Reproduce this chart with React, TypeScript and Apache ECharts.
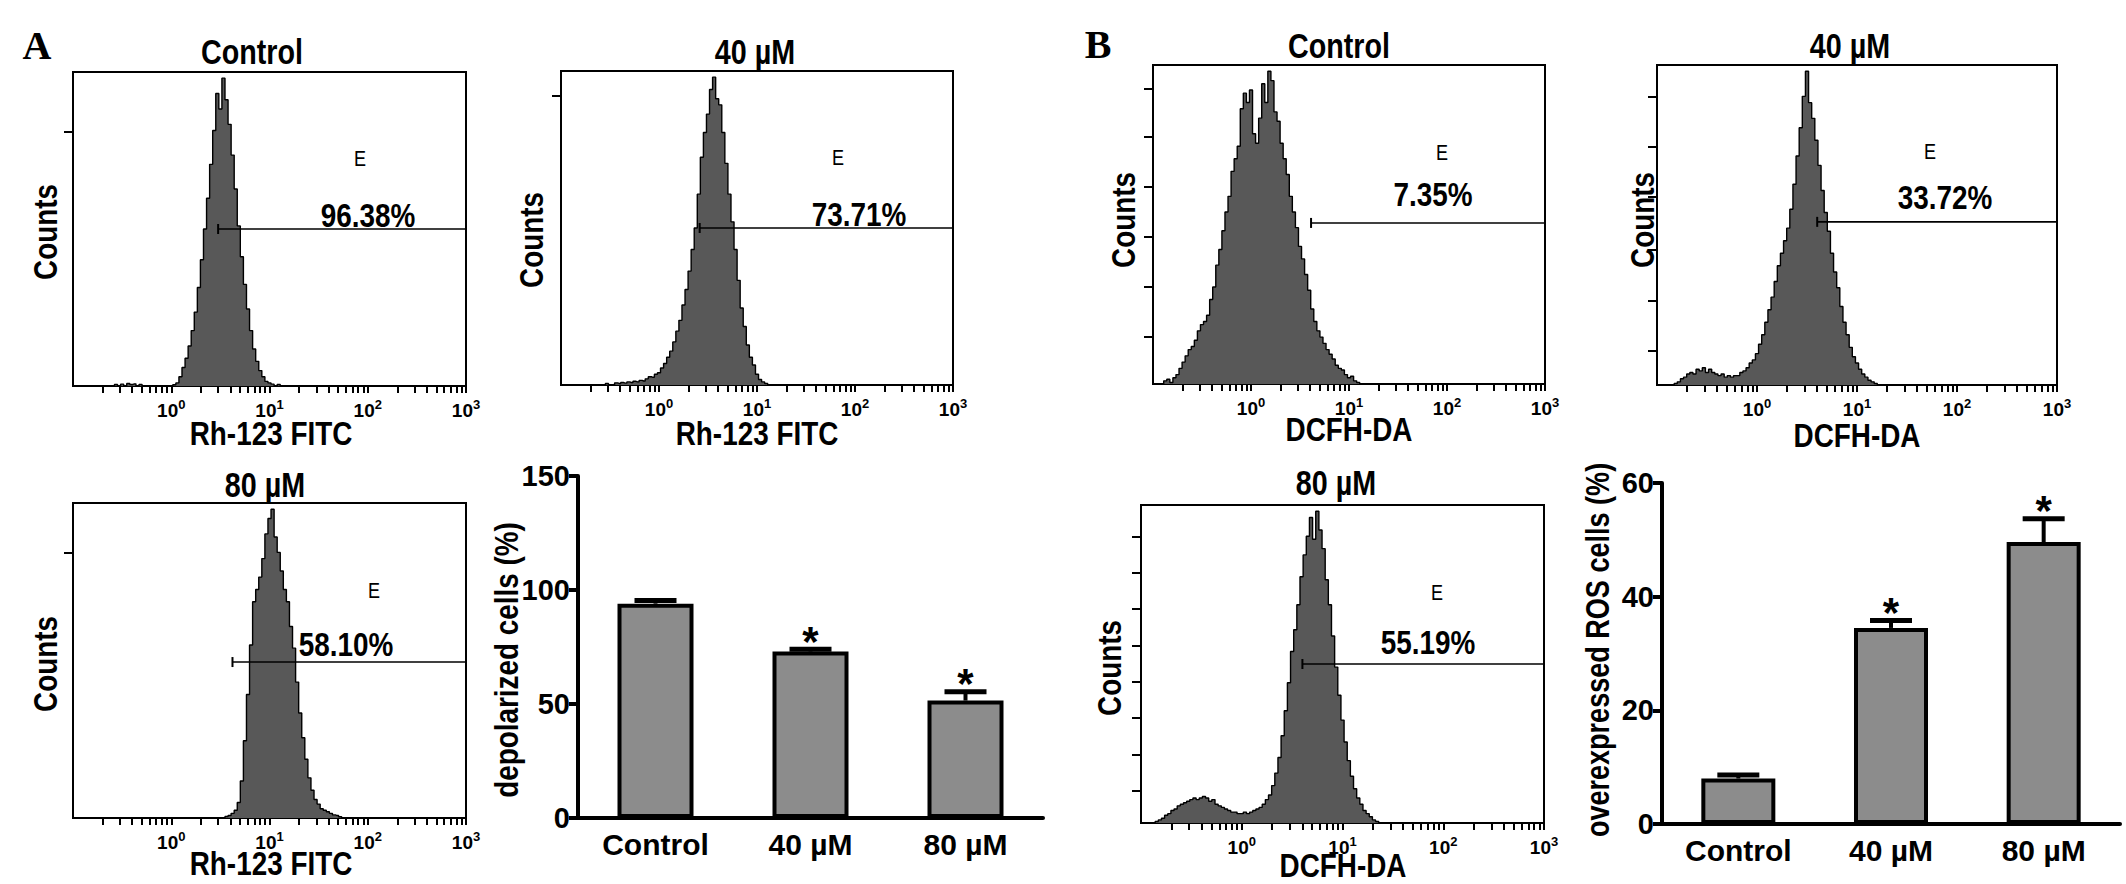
import { useEffect, useRef } from "react";
import * as echarts from "echarts";

const SANS = "'Liberation Sans', Arial, sans-serif";
const SERIF = "'Liberation Serif', 'Times New Roman', serif";
// the figure uses a condensed face; squeeze the regular one to match
const CONDENSE = 0.82;

// cytometer channels: 32 per decade, channel 0 sits at 10^-1
const CH_PER_DECADE = 32;

// histogram counts, % of the modal channel, first value at channel *Start
const rhControlStart = 14;
const rhControl = [
  0.5, 0, 0.6, 0, 0.8, 0.5, 0.7, 0, 0.5, 0, 0, 0, 0, 0, 0, 0, 0, 0, 0, 0.4,
  1, 3, 6, 9, 13, 18, 24, 32, 41, 51, 61, 72, 83, 95, 90, 100, 93, 85, 75, 64,
  52, 42, 33, 25, 18, 12, 8, 5, 3, 1.5, 1, 0.6, 0, 0.5, 0,
];
const rh40Start = 14;
const rh40 = [
  0, 0.5, 0, 0, 0.7, 0.5, 0.8, 0.6, 1, 0.8, 1.2, 1, 1.5, 1.3, 2, 2.7, 2.5, 3.5, 4, 5.5,
  7, 9, 11, 14, 17.5, 21, 26, 31, 37, 44, 51, 62, 74, 82, 88, 96, 100, 93, 91, 82,
  72, 62, 53, 44, 34, 25, 19, 13, 9, 6.5, 3.5, 1.8, 1, 0.5, 0,
];
const rh80Start = 50;
const rh80 = [
  0.5, 0.8, 1.5, 2.5, 5, 12, 25, 40, 56, 70, 74, 78, 84, 92, 97, 100, 91, 86, 80, 74,
  70, 62, 55, 44, 34, 26, 19, 13, 9, 6, 4.5, 3, 2.5, 2, 1.5, 1, 0.8, 0.4, 0,
];
const dcfControlStart = 4;
const dcfControl = [
  1, 1.5, 0.5, 2, 3, 5, 7, 9, 11, 12, 14, 17, 19, 20, 22, 27, 31, 38, 43, 49,
  55, 60, 68, 72, 76, 88, 93, 90, 94, 80, 77, 85, 96, 90, 100, 97, 87, 84, 77, 72,
  67, 60, 55, 50, 44, 40, 35, 30, 24, 20, 17, 15, 13, 11, 9.5, 8, 6, 5, 4.5, 3,
  2, 2.5, 1, 0.5, 0,
];
const dcf40Start = 6;
const dcf40 = [
  0.5, 1, 2, 2.5, 3.5, 4, 3.5, 5, 4.5, 5.5, 4, 5, 4, 3.5, 3, 3.5, 2.5, 3, 2.5, 3,
  3, 4, 4.5, 5.5, 7, 8, 10, 13, 16, 20, 24, 28, 33, 38, 42, 46, 50, 56, 64, 73,
  82, 92, 100, 90, 85, 78, 70, 62, 55, 49, 42, 36, 31, 25, 20, 16, 12, 9, 7, 5,
  3.5, 2.5, 1.5, 1, 0.5, 0,
];
const dcf80Start = 5;
const dcf80 = [
  0.5, 1, 1.5, 2.5, 3, 4, 4.5, 5.5, 6, 6.5, 7, 7.5, 8, 7.5, 8, 8.5, 8, 7, 7.5, 6,
  5.5, 5, 4.5, 4, 3.5, 3.5, 3, 3, 3.5, 3, 3.5, 4, 4.5, 5, 6, 7.5, 9, 12, 16, 21,
  28, 36, 45, 55, 62, 70, 79, 86, 92, 98, 91, 100, 94, 88, 78, 70, 60, 50, 41, 33,
  26, 20, 15, 11, 8, 6, 4, 3, 2, 1, 0.5, 0,
];

const panelTitles = ["Control", "40 µM", "Control", "40 µM", "80 µM", "80 µM"];
const panelXNames = ["Rh-123 FITC", "Rh-123 FITC", "DCFH-DA", "DCFH-DA", "Rh-123 FITC", "DCFH-DA"];
const gateStarts = [3.0, 2.6, 4.1, 4.0, 4.2, 4.0];
const gateLevels = [51, 51, 51.5, 52, 50.5, 51];
const gatePercents = ["96.38%", "73.71%", "7.35%", "33.72%", "58.10%", "55.19%"];
const countTicks = [
  [82.5],
  [94],
  [15, 31, 47, 63, 79, 94.5],
  [11, 27, 43, 60, 76, 92],
  [86],
  [10.3, 22, 33.7, 45.3, 57, 68.6, 80.3, 91.9],
];
const decadeTicks = [1, 10, 100, 1000];
const logTicks = [
  0.2, 0.3, 0.4, 0.5, 0.6, 0.7, 0.8, 0.9, 1, 2, 3, 4, 5, 6, 7, 8, 9, 10,
  20, 30, 40, 50, 60, 70, 80, 90, 100, 200, 300, 400, 500, 600, 700, 800, 900, 1000,
];

const groups = ["Control", "40 µM", "80 µM"];
const depolarized = [94, 73, 51.5];
const depolarizedErr = [1.4, 1, 3.9];
const rosCells = [8, 34.5, 49.6];
const rosErr = [0.6, 1.3, 4.1];
const significant = [false, true, true];
const barTitles = ["depolarized cells (%)", "overexpressed ROS cells (%)"];

// layout: [left, top, width, height]
const histBoxes = [
  [73, 72, 393, 314],
  [561, 71, 392, 314],
  [1153, 65, 392, 319],
  [1657, 65, 400, 320],
  [73, 503, 393, 315],
  [1141, 505, 403, 318],
];
const titlePos = [[252, 52], [755, 52], [1339, 46], [1850, 46], [265, 485], [1336, 483]];
const ePos = [[360, 158], [838, 157], [1442, 152], [1930, 151], [374, 590], [1437, 592]];
const pctPos = [[368, 216], [859, 215], [1433, 195], [1945, 198], [346, 645], [1428, 643]];
const xNamePos = [[271, 434], [757, 434], [1349, 430], [1857, 436], [271, 864], [1343, 866]];
const countsPos = [[46, 232], [532, 240], [1124, 220], [1643, 220], [46, 664], [1110, 668]];
const barBoxes = [
  [578, 476, 465, 342],
  [1662, 483, 458, 341],
];
const barNamePos = [[507, 660], [1598, 650]];

const chX = (ch: number) => Math.pow(10, -1 + ch / CH_PER_DECADE);

const histPoints = (start: number, counts: number[]) => {
  const pts: number[][] = [[chX(start - 1), 0]];
  counts.forEach((c, k) => pts.push([chX(start + k), c]));
  pts.push([chX(start + counts.length), 0]);
  return pts;
};

const bold = (size: number) => ({
  color: "#000",
  fontSize: size,
  fontWeight: "bold",
  fontFamily: SANS,
});

const label = (text: string, x: number, y: number, size: number, extra: any = {}) => ({
  type: "text",
  x,
  y,
  scaleX: CONDENSE,
  ...extra,
  style: {
    text,
    fontSize: size,
    fontWeight: "bold",
    fontFamily: SANS,
    fill: "#000",
    align: "center",
    verticalAlign: "middle",
    ...(extra.style || {}),
  },
});

const App = () => {
  const chartRef = useRef<HTMLDivElement>(null);

  useEffect(() => {
    if (!chartRef.current) return;
    const chart = echarts.init(chartRef.current, null, { renderer: "svg" });

    const histData = [
      histPoints(rhControlStart, rhControl),
      histPoints(rh40Start, rh40),
      histPoints(dcfControlStart, dcfControl),
      histPoints(dcf40Start, dcf40),
      histPoints(rh80Start, rh80),
      histPoints(dcf80Start, dcf80),
    ];

    const grid: any[] = [];
    const xAxis: any[] = [];
    const yAxis: any[] = [];
    const series: any[] = [];
    const graphic: any[] = [];

    histBoxes.forEach(([left, top, width, height], i) => {
      grid.push({ left, top, width, height, show: true, borderColor: "#000", borderWidth: 2 });
      xAxis.push({
        type: "log",
        logBase: 10,
        gridIndex: i,
        position: "bottom",
        min: 0.1,
        max: 1000,
        axisLine: { onZero: false, lineStyle: { color: "#000", width: 2 } },
        axisTick: { customValues: logTicks, length: 7, lineStyle: { color: "#000", width: 2 } },
        axisLabel: {
          customValues: decadeTicks,
          margin: 12,
          formatter: (v: number) => `{b|10}{s|${Math.round(Math.log10(v))}}`,
          rich: {
            b: { ...bold(19), lineHeight: 24 },
            s: { ...bold(13), lineHeight: 24, verticalAlign: "top" },
          },
        },
        splitLine: { show: false },
      });
      yAxis.push({
        type: "value",
        gridIndex: i,
        min: 0,
        max: 102,
        axisLine: { show: false },
        axisTick: { show: true, customValues: countTicks[i], length: 9, lineStyle: { color: "#000", width: 2 } },
        axisLabel: { show: false },
        splitLine: { show: false },
      });
      series.push({
        type: "line",
        xAxisIndex: i,
        yAxisIndex: i,
        step: "middle",
        symbol: "none",
        data: histData[i],
        lineStyle: { color: "#000", width: 1.4 },
        areaStyle: { color: "#585858", opacity: 1 },
        z: 2,
      });
      series.push({
        type: "line",
        xAxisIndex: i,
        yAxisIndex: i,
        data: [
          [gateStarts[i], gateLevels[i]],
          [1000, gateLevels[i]],
        ],
        symbol: "rect",
        symbolSize: [2, 10],
        itemStyle: { color: "#000" },
        lineStyle: { color: "#000", width: 1.6 },
        z: 3,
      });

      graphic.push(label(panelTitles[i], titlePos[i][0], titlePos[i][1], 35));
      graphic.push(label(gatePercents[i], pctPos[i][0], pctPos[i][1], 34));
      graphic.push(label(panelXNames[i], xNamePos[i][0], xNamePos[i][1], 34));
      graphic.push(label("Counts", countsPos[i][0], countsPos[i][1], 34, { rotation: Math.PI / 2 }));
      graphic.push(label("E", ePos[i][0], ePos[i][1], 22, { style: { fontWeight: "normal" } }));
    });

    // bar panels
    const barValues = [depolarized, rosCells];
    const barErrs = [depolarizedErr, rosErr];
    const barMax = [150, 60];
    const barStep = [50, 20];
    const barWidths = [76, 74];

    barBoxes.forEach(([left, top, width, height], j) => {
      const gi = 6 + j;
      grid.push({ left, top, width, height });
      xAxis.push({
        type: "category",
        gridIndex: gi,
        data: groups,
        axisLine: { show: true, onZero: false, lineStyle: { color: "#000", width: 4 } },
        axisTick: { show: false },
        axisLabel: { ...bold(30), margin: 11 },
      });
      yAxis.push({
        type: "value",
        gridIndex: gi,
        min: 0,
        max: barMax[j],
        interval: barStep[j],
        axisLine: { show: true, lineStyle: { color: "#000", width: 4 } },
        axisTick: { show: true, length: 9, lineStyle: { color: "#000", width: 4 } },
        axisLabel: { ...bold(29), margin: 8 },
        splitLine: { show: false },
      });
      series.push({
        type: "bar",
        xAxisIndex: 6 + j,
        yAxisIndex: gi,
        data: barValues[j],
        barWidth: barWidths[j],
        itemStyle: { color: "#8c8c8c", borderColor: "#000", borderWidth: 4 },
        z: 2,
      });
      series.push({
        type: "custom",
        xAxisIndex: 6 + j,
        yAxisIndex: gi,
        encode: { x: 0, y: 1 },
        data: barValues[j].map((v, k) => [k, v, barErrs[j][k], significant[k] ? 1 : 0]),
        z: 4,
        renderItem: (_params: any, api: any) => {
          const k = api.value(0);
          const m = api.value(1);
          const e = api.value(2);
          const base = api.coord([k, m]);
          const cap = api.coord([k, m + e]);
          const children: any[] = [
            { type: "line", shape: { x1: base[0], y1: base[1], x2: cap[0], y2: cap[1] }, style: { stroke: "#000", lineWidth: 4 } },
            { type: "line", shape: { x1: cap[0] - 21, y1: cap[1], x2: cap[0] + 21, y2: cap[1] }, style: { stroke: "#000", lineWidth: 5 } },
          ];
          if (api.value(3)) {
            children.push({
              type: "text",
              x: cap[0],
              y: cap[1] - 8,
              style: { text: "*", fontSize: 42, fontWeight: "bold", fontFamily: SANS, fill: "#000", align: "center", verticalAlign: "middle" },
            });
          }
          return { type: "group", children };
        },
      });
      graphic.push(label(barTitles[j], barNamePos[j][0], barNamePos[j][1], j === 0 ? 34 : 33, { rotation: Math.PI / 2 }));
    });

    graphic.push({
      type: "text",
      x: 37,
      y: 45,
      style: { text: "A", fontSize: 40, fontWeight: "bold", fontFamily: SERIF, fill: "#000", align: "center", verticalAlign: "middle" },
    });
    graphic.push({
      type: "text",
      x: 1098,
      y: 44,
      style: { text: "B", fontSize: 40, fontWeight: "bold", fontFamily: SERIF, fill: "#000", align: "center", verticalAlign: "middle" },
    });

    chart.setOption({
      animation: false,
      backgroundColor: "#fff",
      textStyle: { fontFamily: SANS },
      grid,
      xAxis,
      yAxis,
      series,
      graphic,
    });

    return () => {
      chart.dispose();
    };
  }, []);

  return (
    <div
      ref={chartRef}
      style={{ position: "fixed", left: 0, top: 0, width: 2126, height: 884, background: "#fff" }}
    />
  );
};

export default App;
